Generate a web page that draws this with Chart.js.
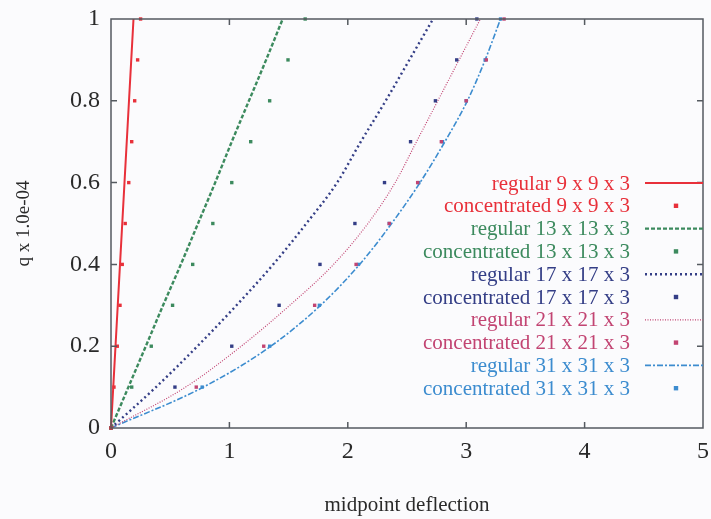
<!DOCTYPE html>
<html>
<head>
<meta charset="utf-8">
<title>midpoint deflection</title>
<script src="https://cdn.jsdelivr.net/npm/chart.js@4/dist/chart.umd.min.js"></script>
<style>
    html, body { margin: 0; padding: 0; background: #fbfbfd; }
    canvas { display: block; }
</style>
</head>
<body>
<canvas id="deflectionChart" width="711" height="519"></canvas>
<script>
// Niveles de carga (eje y, q x 1.0e-04)
const loadLevels = [0, 0.1, 0.2, 0.3, 0.4, 0.5, 0.6, 0.7, 0.8, 0.9, 1.0];

// Deflexion en el punto medio para cada malla (eje x)
const regular9 = [0, 0.019, 0.038, 0.057, 0.076, 0.095, 0.114, 0.133, 0.152, 0.171, 0.19];
const concentrated9 = [0, 0.025, 0.053, 0.076, 0.095, 0.12, 0.15, 0.175, 0.2, 0.225, 0.25];
const regular13 = [0, 0.147, 0.294, 0.44, 0.59, 0.735, 0.88, 1.02, 1.165, 1.31, 1.45];
const concentrated13 = [0, 0.175, 0.34, 0.52, 0.69, 0.86, 1.02, 1.18, 1.34, 1.495, 1.64];
const regular17 = [0, 0.38, 0.73, 1.06, 1.37, 1.65, 1.91, 2.11, 2.32, 2.52, 2.72];
const concentrated17 = [0, 0.54, 1.02, 1.42, 1.765, 2.06, 2.31, 2.53, 2.74, 2.92, 3.09];
const regular21 = [0, 0.63, 1.10, 1.51, 1.88, 2.17, 2.40, 2.58, 2.76, 2.94, 3.12];
const concentrated21 = [0, 0.72, 1.29, 1.72, 2.07, 2.35, 2.59, 2.79, 3.0, 3.17, 3.32];
const regular31 = [0, 0.78, 1.35, 1.77, 2.10, 2.37, 2.61, 2.82, 3.01, 3.16, 3.29];
const concentrated31 = [0, 0.77, 1.34, 1.76, 2.09, 2.35, 2.6, 2.8, 3.0, 3.16, 3.29];

// Etiquetas de la leyenda
const seriesLabels = [
    'regular 9 x 9 x 3', 'concentrated 9 x 9 x 3',
    'regular 13 x 13 x 3', 'concentrated 13 x 13 x 3',
    'regular 17 x 17 x 3', 'concentrated 17 x 17 x 3',
    'regular 21 x 21 x 3', 'concentrated 21 x 21 x 3',
    'regular 31 x 31 x 3', 'concentrated 31 x 31 x 3'
];
const xTicks = [0, 1, 2, 3, 4, 5];
const yTicks = [0, 0.2, 0.4, 0.6, 0.8, 1];

const SERIF = '"Liberation Serif", "DejaVu Serif", serif';

// Une deflexiones y cargas en pares {x, y}
function toPoints(deflections) {
    return deflections.map((d, i) => ({ x: d, y: loadLevels[i] }));
}

function lineSeries(label, data, color, dash, width) {
    return {
        label: label,
        data: toPoints(data),
        showLine: true,
        borderColor: color,
        backgroundColor: color,
        borderWidth: width,
        borderDash: dash,
        pointRadius: 0,
        cubicInterpolationMode: 'monotone',
        clip: 4
    };
}

function pointSeries(label, data, color) {
    return {
        label: label,
        data: toPoints(data),
        showLine: false,
        borderColor: color,
        backgroundColor: color,
        pointStyle: 'rect',
        pointRadius: 2.4,
        pointBorderWidth: 0,
        clip: false
    };
}

const colors = ['#e8303a', '#3c8a5e', '#343e86', '#c24472', '#3c8ccf'];

const datasets = [
    lineSeries(seriesLabels[0], regular9, colors[0], [], 2),
    pointSeries(seriesLabels[1], concentrated9, colors[0]),
    lineSeries(seriesLabels[2], regular13, colors[1], [4, 2], 2.4),
    pointSeries(seriesLabels[3], concentrated13, colors[1]),
    lineSeries(seriesLabels[4], regular17, colors[2], [2, 3], 2.4),
    pointSeries(seriesLabels[5], concentrated17, colors[2]),
    lineSeries(seriesLabels[6], regular21, colors[3], [1, 1.5], 1.2),
    pointSeries(seriesLabels[7], concentrated21, colors[3]),
    lineSeries(seriesLabels[8], regular31, colors[4], [6, 2, 2, 2], 1.6),
    pointSeries(seriesLabels[9], concentrated31, colors[4])
];

// Marco estilo gnuplot con marcas hacia dentro
const framePlugin = {
    id: 'frame',
    afterDatasetsDraw(chart) {
        const { ctx, chartArea: a, scales } = chart;
        ctx.save();
        ctx.strokeStyle = '#555a60';
        ctx.lineWidth = 1.5;
        ctx.strokeRect(a.left, a.top, a.right - a.left, a.bottom - a.top);
        const tl = 6;
        ctx.beginPath();
        xTicks.slice(1, -1).forEach(v => {
            const px = scales.x.getPixelForValue(v);
            ctx.moveTo(px, a.bottom); ctx.lineTo(px, a.bottom - tl);
            ctx.moveTo(px, a.top); ctx.lineTo(px, a.top + tl);
        });
        yTicks.slice(1, -1).forEach(v => {
            const py = scales.y.getPixelForValue(v);
            ctx.moveTo(a.left, py); ctx.lineTo(a.left + tl, py);
            ctx.moveTo(a.right, py); ctx.lineTo(a.right - tl, py);
        });
        ctx.stroke();
        ctx.restore();
    }
};

// Leyenda dentro del area: texto alineado a la derecha, muestra a la derecha
const insideLegend = {
    id: 'insideLegend',
    afterDatasetsDraw(chart) {
        const { ctx, chartArea: a } = chart;
        const textRight = 630;
        const top = 183;
        const step = 22.8;
        ctx.save();
        ctx.font = '21px ' + SERIF;
        ctx.textAlign = 'right';
        ctx.textBaseline = 'middle';
        chart.data.datasets.forEach((ds, i) => {
            const y = top + i * step;
            ctx.fillStyle = ds.borderColor;
            ctx.fillText(ds.label, textRight, y + 1);
            if (ds.showLine) {
                ctx.strokeStyle = ds.borderColor;
                ctx.lineWidth = ds.borderWidth;
                ctx.setLineDash(ds.borderDash);
                ctx.beginPath();
                ctx.moveTo(645, y);
                ctx.lineTo(a.right, y);
                ctx.stroke();
                ctx.setLineDash([]);
            } else {
                ctx.fillRect(676 - 2.2, y - 2.2, 4.4, 4.4);
            }
        });
        ctx.restore();
    }
};

// Quitar el relleno automatico que Chart.js añade por las etiquetas
function noLabelPadding(scale) {
    scale.paddingLeft = 0;
    scale.paddingRight = 0;
    scale.paddingTop = 0;
    scale.paddingBottom = 0;
}

new Chart(document.getElementById('deflectionChart'), {
    type: 'scatter',
    data: { datasets: datasets },
    plugins: [framePlugin, insideLegend],
    options: {
        responsive: false,
        animation: false,
        layout: { padding: { left: 0, right: 8, top: 19, bottom: 0 } },
        plugins: {
            legend: { display: false },
            tooltip: { enabled: false }
        },
        scales: {
            x: {
                type: 'linear',
                min: 0,
                max: 5,
                afterBuildTicks: scale => { scale.ticks = xTicks.map(v => ({ value: v })); },
                afterFit: scale => { scale.height = 519 - 428; noLabelPadding(scale); },
                grid: { display: false, drawTicks: false },
                border: { display: false },
                ticks: {
                    padding: 9,
                    color: '#2a2a2a',
                    font: { family: SERIF, size: 24 },
                    maxRotation: 0,
                    callback: value => String(value)
                },
                title: {
                    display: true,
                    text: 'midpoint deflection',
                    color: '#2a2a2a',
                    font: { family: SERIF, size: 21 },
                    padding: { top: 0, bottom: 1 }
                }
            },
            y: {
                type: 'linear',
                min: 0,
                max: 1,
                afterBuildTicks: scale => { scale.ticks = yTicks.map(v => ({ value: v })); },
                afterFit: scale => { scale.width = 111; noLabelPadding(scale); },
                grid: { display: false, drawTicks: false },
                border: { display: false },
                ticks: {
                    padding: 11,
                    color: '#2a2a2a',
                    font: { family: SERIF, size: 24 },
                    callback: value => String(value)
                },
                title: {
                    display: true,
                    text: 'q x 1.0e-04',
                    color: '#2a2a2a',
                    font: { family: SERIF, size: 19 },
                    padding: { top: 13, bottom: 0 }
                }
            }
        }
    }
});
</script>
</body>
</html>
